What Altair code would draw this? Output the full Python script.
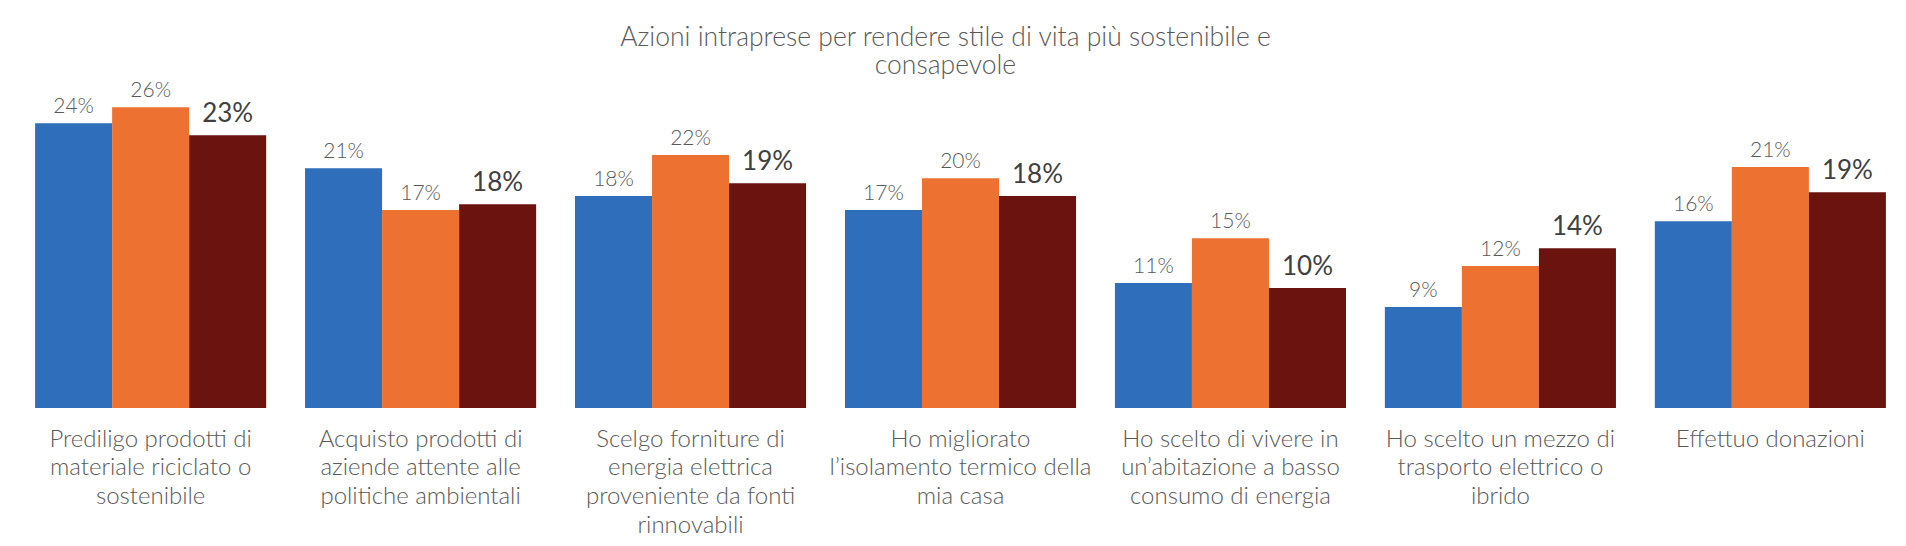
import altair as alt
import pandas as pd

categories = [
    "Prediligo prodotti di\nmateriale riciclato o\nsostenibile",
    "Acquisto prodotti di\naziende attente alle\npolitiche ambientali",
    "Scelgo forniture di\nenergia elettrica\nproveniente da fonti\nrinnovabili",
    "Ho migliorato\nl\u2019isolamento termico della\nmia casa",
    "Ho scelto di vivere in\nun\u2019abitazione a basso\nconsumo di energia",
    "Ho scelto un mezzo di\ntrasporto elettrico o\nibrido",
    "Effettuo donazioni",
]
series = ["Serie 1", "Serie 2", "Serie 3"]
serie1 = [24.46, 20.6, 18.2, 17.0, 10.73, 8.67, 16.05]
serie2 = [25.84, 17.0, 21.72, 19.74, 14.59, 12.19, 20.69]
serie3 = [23.43, 17.51, 19.31, 18.2, 10.3, 13.73, 18.54]
colors = ["#2F6EBA", "#ED7130", "#6A130F"]

rows = []
for i, c in enumerate(categories):
    for s, vals in zip(series, [serie1, serie2, serie3]):
        rows.append({"categoria": c, "serie": s, "valore": vals[i]})
df = pd.DataFrame(rows)

x = alt.X(
    "categoria:N",
    sort=categories,
    scale=alt.Scale(paddingInner=0.144, paddingOuter=0.03),
    axis=alt.Axis(
        title=None, labelAngle=0, ticks=False, domain=False,
        labelFont="Lato", labelFontSize=24, labelFontWeight=300,
        labelColor="#595959", labelLineHeight=28.7, labelPadding=19,
        labelExpr="split(datum.label, '\\n')", labelLimit=0,
        labelOverlap=False,
    ),
)
xo = alt.XOffset("serie:N", sort=series, scale=alt.Scale(paddingInner=0, paddingOuter=0))
y = alt.Y("valore:Q", scale=alt.Scale(domain=[0, 28]), axis=None)

base = alt.Chart(df)

bars = base.mark_bar().encode(
    x=x, xOffset=xo, y=y,
    color=alt.Color("serie:N", scale=alt.Scale(domain=series, range=colors), legend=None),
)

labels_light = base.transform_filter(
    alt.FieldOneOfPredicate(field="serie", oneOf=series[:2])
).transform_calculate(
    etichetta="round(datum.valore) + '%'"
).mark_text(
    font="Lato", fontSize=21, fontWeight=300, color="#595959",
    baseline="alphabetic", align="center", dy=-10,
).encode(x=x, xOffset=xo, y=y, text="etichetta:N")

labels_bold = base.transform_filter(
    alt.FieldOneOfPredicate(field="serie", oneOf=series[2:])
).transform_calculate(
    etichetta="round(datum.valore) + '%'"
).mark_text(
    font="Lato", fontSize=26, fontWeight=400, color="#404040",
    baseline="alphabetic", align="center", dy=-13,
).encode(x=x, xOffset=xo, y=y, text="etichetta:N")

chart = alt.layer(bars, labels_light, labels_bold).properties(
    width=1867,
    height=326,
    autosize=alt.AutoSizeParams(type="none"),
    padding={"left": 19, "top": 74, "right": 4, "bottom": 130},
    title=alt.TitleParams(
        ["Azioni intraprese per rendere stile di vita pi\u00f9 sostenibile e", "consapevole"],
        font="Lato", fontSize=26.5, fontWeight=300, color="#595959",
        lineHeight=27.5, offset=1, dx=-15, anchor="middle",
    ),
).configure_view(stroke=None)

chart.save("out.html", embed_options={"renderer": "svg", "actions": False})
